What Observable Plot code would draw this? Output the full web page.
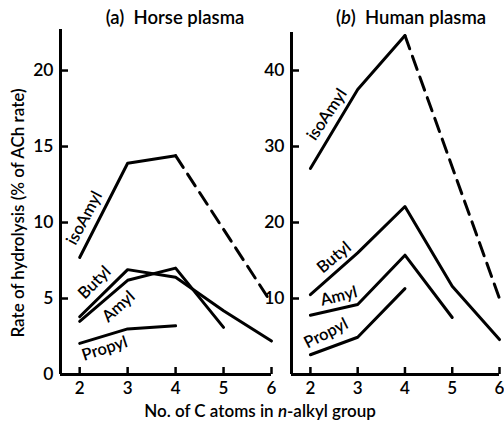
<!DOCTYPE html>
<html><head><meta charset="utf-8">
<script src="https://cdn.jsdelivr.net/npm/d3@7"></script>
<script src="https://cdn.jsdelivr.net/npm/@observablehq/plot@0.6"></script>
<style>
body{margin:0;background:#fff;}
#wrap{position:relative;width:504px;height:425px;overflow:hidden;font-family:Lato,"Open Sans",sans-serif;color:#000;background:#fff;}
.p{position:absolute;top:0;}
.lab{position:absolute;white-space:nowrap;font-size:17px;font-weight:600;line-height:1;}
.ttl{font-size:18.5px;}
</style></head><body>
<div id="wrap"></div>
<script>
// ---- data ----
const carbons = [2, 3, 4, 5, 6];
const xTicks = [2, 3, 4, 5, 6];

// (a) Horse plasma
const horseIsoAmyl = [7.7, 13.9, 14.4];
const horseIsoAmylDashed = [[4, 14.4], [6, 4.7]];
const horseButyl = [3.8, 6.9, 6.4, 4.2, 2.2];
const horseAmyl = [3.5, 6.2, 7.0, 3.1];
const horsePropyl = [2.05, 3.0, 3.2];
const horseYTicks = [0, 5, 10, 15, 20];
const horseLabels = [
  {text: "isoAmyl", x: 2.1, y: 10.3, angle: -62},
  {text: "Butyl", x: 2.31, y: 6.05, angle: -45},
  {text: "Amyl", x: 2.81, y: 4.47, angle: -42},
  {text: "Propyl", x: 2.52, y: 1.7, angle: -18}
];

// (b) Human plasma
const humanIsoAmyl = [27.1, 37.5, 44.6];
const humanIsoAmylDashed = [[4, 44.6], [6, 10.0]];
const humanButyl = [10.5, 16.0, 22.1, 11.6, 4.6];
const humanAmyl = [7.8, 9.2, 15.7, 7.5];
const humanPropyl = [2.6, 4.9, 11.3];
const humanYTicks = [10, 20, 30, 40];
const humanLabels = [
  {text: "isoAmyl", x: 2.35, y: 34.2, angle: -56},
  {text: "Butyl", x: 2.5, y: 15.4, angle: -40},
  {text: "Amyl", x: 2.6, y: 10.3, angle: -14},
  {text: "Propyl", x: 2.33, y: 5.4, angle: -27}
];

const xMin = 1.6, xMax = 6;

function rows(name, values) {
  return values.map((v, i) => ({name, x: carbons[i], y: v}));
}

function panel({left, width, marginLeft, marginRight, marginTop, marginBottom, yMax, yTicks, series, dashed, labels}) {
  const data = series.flatMap(([n, v]) => rows(n, v));
  const dash = dashed.map(([x, y]) => ({x, y}));
  const svg = Plot.plot({
    width, height: 425,
    marginLeft, marginRight, marginTop, marginBottom,
    style: {background: "transparent", fontFamily: "Lato, 'Open Sans', sans-serif", color: "#000"},
    x: {domain: [xMin, xMax], axis: null},
    y: {domain: [0, yMax], axis: null},
    marks: [
      Plot.ruleX([xMin], {stroke: "#000", strokeWidth: 3}),
      Plot.ruleY([0], {stroke: "#000", strokeWidth: 3}),
      Plot.axisY(yTicks, {anchor: "left", tickSize: 8, dx: 8, tickPadding: 7, strokeWidth: 2.5, fontSize: 17.5, fontWeight: 600, label: null}),
      Plot.axisX(xTicks, {anchor: "bottom", tickSize: 7, dy: -7, tickPadding: 7, strokeWidth: 2.5, fontSize: 17, fontWeight: 600, label: null}),
      Plot.line(data, {x: "x", y: "y", z: "name", stroke: "#000", strokeWidth: 3}),
      Plot.line(dash, {x: "x", y: "y", stroke: "#000", strokeWidth: 3, strokeDasharray: "14,8"}),
      Plot.text(labels, {x: "x", y: "y", text: "text", rotate: "angle", fontSize: 16.5, fontWeight: 600, fill: "#000"})
    ]
  });
  svg.classList.add("p");
  svg.style.left = left + "px";
  svg.style.position = "absolute";
  svg.style.top = "0px";
  return svg;
}

const wrap = document.getElementById("wrap");
wrap.appendChild(panel({
  left: 0, width: 280, marginLeft: 60, marginRight: 9, marginTop: 29, marginBottom: 51,
  yMax: 22.7, yTicks: horseYTicks,
  series: [["isoAmyl", horseIsoAmyl], ["Butyl", horseButyl], ["Amyl", horseAmyl], ["Propyl", horsePropyl]],
  dashed: horseIsoAmylDashed, labels: horseLabels
}));
wrap.appendChild(panel({
  left: 230, width: 274, marginLeft: 61, marginRight: 5, marginTop: 32, marginBottom: 51,
  yMax: 45, yTicks: humanYTicks,
  series: [["isoAmyl", humanIsoAmyl], ["Butyl", humanButyl], ["Amyl", humanAmyl], ["Propyl", humanPropyl]],
  dashed: humanIsoAmylDashed, labels: humanLabels
}));

function label(html, x, y, extra, cls) {
  const d = document.createElement("div");
  d.className = "lab" + (cls ? " " + cls : "");
  d.innerHTML = html;
  d.style.left = x + "px";
  d.style.top = y + "px";
  d.style.transform = "translate(-50%,-50%)" + (extra || "");
  wrap.appendChild(d);
}
label("(a)&nbsp; Horse plasma", 175, 17, "", "ttl");
label("(<i>b</i>)&nbsp; Human plasma", 411, 17, "", "ttl");
label("No. of C atoms in <i>n</i>-alkyl group", 260, 410);
label("Rate of hydrolysis (% of ACh rate)", 17, 213, " rotate(-90deg)");
</script>
</body></html>
